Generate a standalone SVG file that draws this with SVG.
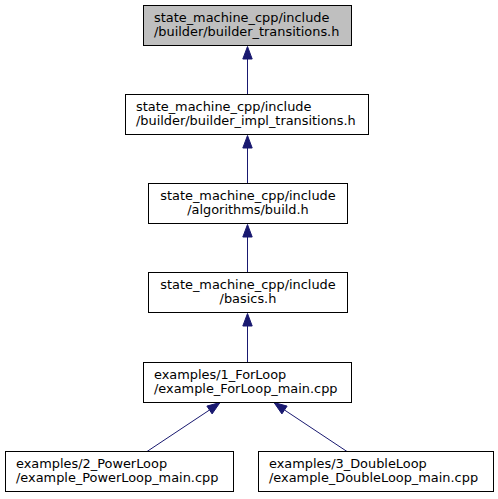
<svg xmlns="http://www.w3.org/2000/svg" width="498" height="499" viewBox="0 0 498 499">
<style>
.node rect { fill: #ffffff; stroke: #000000; stroke-width: 1; }
.node.root rect { fill: #bfbfbf; }
.node text { font-family: "DejaVu Sans", sans-serif; font-size: 12.9px; fill: #000000; }
.edge line { stroke: #191970; stroke-width: 1; }
.edge polygon { fill: #191970; stroke: #191970; stroke-width: 1; }
</style>
<rect x="0" y="0" width="498" height="499" fill="#ffffff"/>
<g id="connectors">
  <g class="edge" id="e2_1"><line x1="247.5" y1="95" x2="247.5" y2="59"/><polygon points="242.8,59 247.5,46.5 252.2,59"/></g>
  <g class="edge" id="e3_2"><line x1="247.5" y1="184" x2="247.5" y2="148"/><polygon points="242.8,148 247.5,135.5 252.2,148"/></g>
  <g class="edge" id="e4_3"><line x1="247.5" y1="273" x2="247.5" y2="237"/><polygon points="242.8,237 247.5,224.5 252.2,237"/></g>
  <g class="edge" id="e5_4"><line x1="247.5" y1="362" x2="247.5" y2="326"/><polygon points="242.8,326 247.5,313.5 252.2,326"/></g>
  <g class="edge" id="e6_5"><line x1="147" y1="451.5" x2="209.5" y2="410"/><polygon points="206.9,406.1 220,402.5 212.1,413.9"/></g>
  <g class="edge" id="e7_5"><line x1="347" y1="451.5" x2="284.5" y2="410"/><polygon points="287.1,406.1 274,402.5 281.9,413.9"/></g>
</g>
<g class="node root" id="node1">
  <rect x="143.5" y="5.5" width="208" height="40"/>
  <text x="154" y="21.5">state_machine_cpp/include</text>
  <text x="154" y="36">/builder/builder_transitions.h</text>
</g>
<g class="node" id="node2">
  <rect x="125.5" y="94.5" width="243" height="40"/>
  <text x="136" y="110.5">state_machine_cpp/include</text>
  <text x="136" y="125">/builder/builder_impl_transitions.h</text>
</g>
<g class="node" id="node3">
  <rect x="148.5" y="183.5" width="199" height="40"/>
  <text x="248" y="199.5" text-anchor="middle">state_machine_cpp/include</text>
  <text x="248" y="214" text-anchor="middle">/algorithms/build.h</text>
</g>
<g class="node" id="node4">
  <rect x="148.5" y="272.5" width="199" height="40"/>
  <text x="248" y="288.5" text-anchor="middle">state_machine_cpp/include</text>
  <text x="248" y="303" text-anchor="middle">/basics.h</text>
</g>
<g class="node" id="node5">
  <rect x="143.5" y="362.5" width="208" height="40"/>
  <text x="154" y="378.5">examples/1_ForLoop</text>
  <text x="154" y="393">/example_ForLoop_main.cpp</text>
</g>
<g class="node" id="node6">
  <rect x="5.5" y="451.5" width="228" height="40"/>
  <text x="16" y="467.5">examples/2_PowerLoop</text>
  <text x="16" y="482">/example_PowerLoop_main.cpp</text>
</g>
<g class="node" id="node7">
  <rect x="258.5" y="451.5" width="235" height="40"/>
  <text x="269" y="467.5">examples/3_DoubleLoop</text>
  <text x="269" y="482">/example_DoubleLoop_main.cpp</text>
</g>
</svg>
